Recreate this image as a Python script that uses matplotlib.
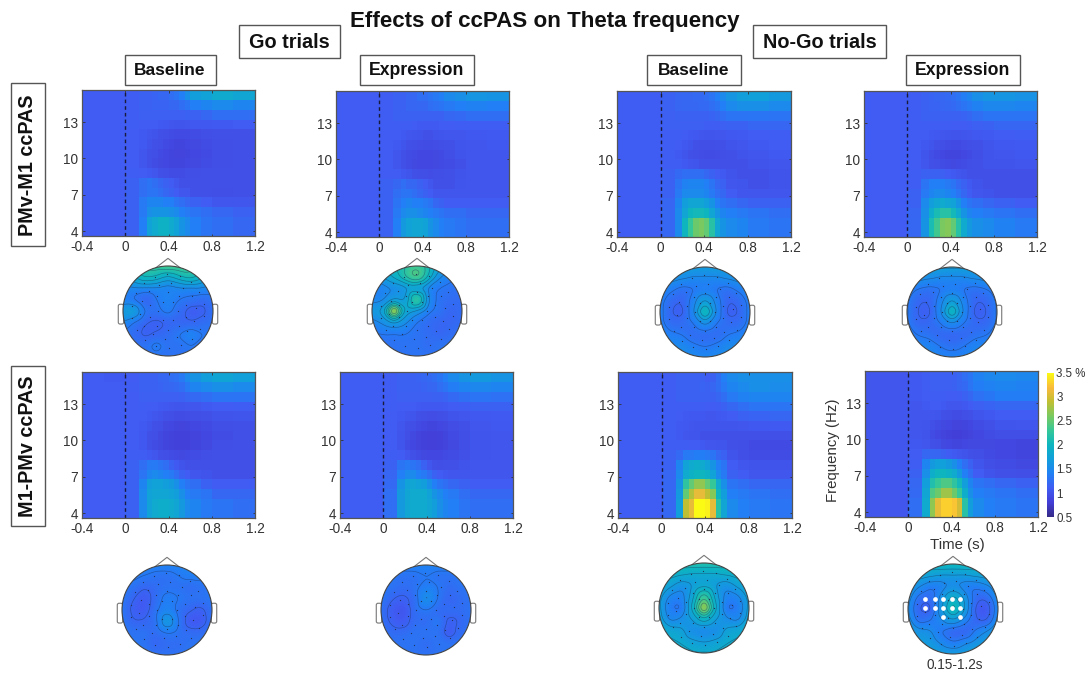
import numpy as np
import matplotlib
matplotlib.use("Agg")
import matplotlib.pyplot as plt
from matplotlib.colors import LinearSegmentedColormap, Normalize
from matplotlib.patches import Circle, FancyBboxPatch, Rectangle
from matplotlib.tri import Triangulation, CubicTriInterpolator
from matplotlib.cm import ScalarMappable

plt.rcParams['font.family'] = ['Liberation Sans', 'DejaVu Sans']

T_EDGES = [-.4,-.2,0,.13,.2,.25,.3,.35,.4,.45,.5,.55,.6,.7,.8,1.0,1.2]
F_EDGES = [3.6,5.2,6.0,6.8,7.6,8.4,9.2,10.0,10.8,11.6,12.4,13.2,14.0,14.8,15.65]

TF_A = [
[1.1,1.1,1.15,1.4,1.75,1.85,1.95,1.95,1.85,1.75,1.6,1.5,1.4,1.3,1.25,1.2],
[1.1,1.1,1.15,1.35,1.55,1.6,1.6,1.6,1.55,1.5,1.4,1.35,1.3,1.25,1.2,1.15],
[1.1,1.1,1.15,1.35,1.45,1.45,1.45,1.4,1.4,1.3,1.25,1.2,1.15,1.1,1.05,1.05],
[1.1,1.1,1.15,1.25,1.3,1.3,1.25,1.2,1.15,1.1,1.05,1.05,1.0,1.0,.98,1.0],
[1.1,1.1,1.15,1.25,1.3,1.25,1.2,1.15,1.1,1.05,1.0,1.0,1.0,1.0,1.0,1.0],
[1.1,1.1,1.12,1.1,1.08,1.05,1.0,.98,.95,.95,.95,.97,.98,1.0,1.0,1.0],
[1.1,1.1,1.1,1.05,1.0,.95,.92,.9,.88,.88,.88,.9,.92,.95,.98,1.0],
[1.1,1.1,1.1,1.05,1.0,.97,.93,.9,.88,.87,.87,.88,.9,.93,.97,1.0],
[1.1,1.1,1.1,1.08,1.02,1.0,.97,.93,.9,.88,.88,.9,.92,.95,.97,1.0],
[1.1,1.1,1.1,1.08,1.05,1.02,1.0,.97,.95,.93,.93,.94,.95,.97,1.0,1.0],
[1.1,1.1,1.12,1.1,1.1,1.1,1.08,1.07,1.05,1.03,1.03,1.05,1.07,1.07,1.08,1.1],
[1.1,1.1,1.12,1.13,1.13,1.13,1.13,1.13,1.13,1.13,1.13,1.15,1.15,1.2,1.25,1.25],
[1.1,1.1,1.12,1.15,1.15,1.17,1.17,1.17,1.2,1.2,1.25,1.3,1.4,1.45,1.5,1.45],
[1.1,1.1,1.12,1.15,1.15,1.17,1.2,1.2,1.25,1.3,1.4,1.55,1.7,1.75,1.85,1.8],
]
TF_B = [
[1.1,1.1,1.15,1.4,1.65,1.75,1.8,1.8,1.75,1.6,1.5,1.4,1.35,1.3,1.25,1.25],
[1.1,1.1,1.15,1.35,1.5,1.55,1.55,1.5,1.45,1.4,1.35,1.3,1.25,1.25,1.2,1.2],
[1.1,1.1,1.15,1.3,1.4,1.45,1.4,1.4,1.35,1.3,1.2,1.15,1.1,1.1,1.1,1.1],
[1.1,1.1,1.15,1.25,1.3,1.3,1.25,1.2,1.15,1.1,1.05,1.05,1.05,1.05,1.05,1.05],
[1.1,1.1,1.15,1.2,1.25,1.2,1.2,1.15,1.1,1.05,1.0,1.0,1.0,1.03,1.05,1.05],
[1.1,1.1,1.1,1.1,1.07,1.03,1.0,.98,.97,.96,.97,.98,1.0,1.02,1.05,1.05],
[1.1,1.1,1.1,1.05,1.0,.95,.92,.9,.9,.9,.92,.93,.95,1.0,1.05,1.05],
[1.1,1.1,1.1,1.05,1.0,.95,.93,.9,.9,.9,.92,.93,.97,1.02,1.05,1.05],
[1.1,1.1,1.1,1.08,1.03,1.0,.97,.96,.95,.95,.96,.97,1.0,1.03,1.05,1.07],
[1.1,1.1,1.1,1.1,1.08,1.05,1.03,1.02,1.0,1.0,1.02,1.03,1.05,1.05,1.07,1.08],
[1.1,1.1,1.12,1.12,1.12,1.12,1.1,1.08,1.08,1.08,1.08,1.1,1.1,1.12,1.12,1.12],
[1.1,1.1,1.12,1.15,1.15,1.15,1.15,1.15,1.15,1.15,1.15,1.15,1.2,1.22,1.25,1.25],
[1.1,1.1,1.12,1.15,1.15,1.18,1.18,1.2,1.2,1.25,1.28,1.3,1.35,1.4,1.42,1.4],
[1.1,1.1,1.12,1.15,1.15,1.18,1.2,1.25,1.25,1.3,1.35,1.4,1.5,1.55,1.62,1.6],
]
TF_C = [
[1.12,1.12,1.2,1.5,2.0,2.3,2.55,2.6,2.5,2.2,1.8,1.6,1.5,1.45,1.35,1.3],
[1.12,1.12,1.2,1.5,1.8,2.0,2.05,2.05,2.0,1.8,1.6,1.45,1.4,1.35,1.3,1.25],
[1.12,1.12,1.18,1.45,1.7,1.8,1.8,1.8,1.7,1.6,1.4,1.3,1.25,1.2,1.15,1.15],
[1.12,1.12,1.15,1.35,1.5,1.5,1.5,1.5,1.45,1.35,1.25,1.2,1.1,1.05,1.05,1.05],
[1.12,1.12,1.15,1.3,1.42,1.45,1.45,1.45,1.4,1.3,1.2,1.15,1.05,1.03,1.0,1.02],
[1.12,1.12,1.15,1.22,1.25,1.25,1.25,1.25,1.2,1.15,1.1,1.08,1.02,1.0,1.0,1.02],
[1.12,1.12,1.12,1.12,1.08,1.05,1.03,1.0,1.0,1.0,1.0,1.0,1.0,1.0,1.02,1.05],
[1.12,1.12,1.12,1.08,1.03,1.0,.97,.96,.95,.95,.96,.97,1.0,1.02,1.05,1.08],
[1.12,1.12,1.12,1.1,1.07,1.03,1.0,.98,.97,.98,1.0,1.0,1.02,1.05,1.08,1.1],
[1.12,1.12,1.12,1.12,1.1,1.08,1.07,1.05,1.03,1.03,1.05,1.05,1.07,1.08,1.1,1.12],
[1.12,1.12,1.13,1.13,1.13,1.13,1.13,1.13,1.12,1.12,1.12,1.13,1.15,1.15,1.18,1.18],
[1.12,1.12,1.13,1.15,1.15,1.15,1.15,1.15,1.15,1.17,1.2,1.25,1.3,1.3,1.32,1.3],
[1.12,1.12,1.15,1.18,1.2,1.2,1.2,1.22,1.22,1.25,1.3,1.4,1.5,1.55,1.55,1.5],
[1.12,1.12,1.15,1.18,1.2,1.2,1.22,1.22,1.25,1.3,1.4,1.5,1.62,1.7,1.72,1.65],
]
TF_D = [
[1.1,1.1,1.2,1.6,2.1,2.35,2.6,2.65,2.5,2.2,1.85,1.65,1.55,1.5,1.42,1.35],
[1.1,1.1,1.18,1.55,1.9,2.1,2.2,2.2,2.05,1.85,1.6,1.45,1.4,1.35,1.3,1.25],
[1.1,1.1,1.15,1.5,1.7,1.8,1.85,1.8,1.75,1.6,1.4,1.3,1.25,1.2,1.15,1.1],
[1.1,1.1,1.15,1.35,1.45,1.5,1.5,1.45,1.4,1.3,1.2,1.12,1.05,1.02,1.0,1.0],
[1.1,1.1,1.12,1.3,1.4,1.4,1.4,1.35,1.3,1.22,1.15,1.08,1.02,1.0,1.0,1.0],
[1.1,1.1,1.12,1.15,1.15,1.15,1.13,1.1,1.08,1.05,1.02,1.0,1.0,1.0,1.0,1.0],
[1.1,1.1,1.1,1.05,1.0,.98,.95,.93,.92,.93,.95,.97,1.0,1.02,1.02,1.05],
[1.1,1.1,1.1,1.03,.97,.93,.9,.88,.88,.88,.9,.93,.97,1.02,1.05,1.07],
[1.1,1.1,1.1,1.07,1.03,1.0,.97,.95,.94,.94,.96,.98,1.0,1.03,1.07,1.08],
[1.1,1.1,1.1,1.1,1.08,1.07,1.05,1.03,1.02,1.02,1.03,1.05,1.07,1.08,1.1,1.12],
[1.1,1.1,1.12,1.12,1.12,1.12,1.12,1.12,1.1,1.1,1.1,1.12,1.13,1.15,1.18,1.18],
[1.1,1.1,1.12,1.15,1.15,1.15,1.15,1.15,1.15,1.15,1.17,1.2,1.25,1.3,1.3,1.3],
[1.1,1.1,1.12,1.15,1.17,1.17,1.18,1.2,1.22,1.25,1.3,1.35,1.42,1.48,1.48,1.45],
[1.1,1.1,1.12,1.15,1.17,1.18,1.2,1.22,1.25,1.3,1.38,1.45,1.55,1.62,1.62,1.58],
]
TF_E = [
[1.1,1.1,1.15,1.5,1.75,1.85,1.9,1.9,1.85,1.8,1.65,1.5,1.45,1.35,1.3,1.25],
[1.1,1.1,1.15,1.5,1.75,1.8,1.8,1.8,1.75,1.7,1.55,1.4,1.35,1.3,1.2,1.2],
[1.1,1.1,1.15,1.45,1.7,1.75,1.75,1.7,1.65,1.55,1.4,1.3,1.25,1.15,1.1,1.1],
[1.1,1.1,1.15,1.3,1.45,1.5,1.45,1.4,1.35,1.25,1.15,1.1,1.05,1.02,1.0,1.0],
[1.1,1.1,1.15,1.25,1.35,1.35,1.3,1.25,1.15,1.08,1.02,1.0,1.0,1.0,1.0,1.0],
[1.1,1.1,1.12,1.12,1.08,1.05,1.0,.97,.95,.93,.92,.93,.95,.97,1.0,1.0],
[1.1,1.1,1.1,1.07,1.0,.95,.92,.88,.86,.85,.85,.85,.88,.92,.97,1.0],
[1.1,1.1,1.1,1.07,1.0,.97,.92,.88,.86,.84,.84,.85,.87,.9,.95,1.0],
[1.1,1.1,1.1,1.08,1.03,1.0,.97,.92,.9,.88,.87,.88,.9,.93,.97,1.0],
[1.1,1.1,1.1,1.1,1.08,1.05,1.02,1.0,.97,.95,.95,.96,.97,1.0,1.02,1.03],
[1.1,1.1,1.1,1.12,1.1,1.1,1.08,1.07,1.05,1.03,1.03,1.05,1.05,1.08,1.1,1.12],
[1.1,1.1,1.1,1.13,1.13,1.13,1.13,1.13,1.13,1.13,1.15,1.18,1.22,1.25,1.3,1.3],
[1.1,1.1,1.12,1.15,1.15,1.15,1.17,1.18,1.2,1.22,1.25,1.35,1.45,1.5,1.55,1.5],
[1.1,1.08,1.1,1.15,1.15,1.15,1.18,1.2,1.25,1.28,1.35,1.5,1.6,1.7,1.78,1.72],
]
TF_F = [
[1.12,1.12,1.25,1.65,1.8,1.85,1.85,1.85,1.8,1.7,1.55,1.45,1.4,1.3,1.25,1.25],
[1.12,1.12,1.25,1.65,1.8,1.85,1.85,1.85,1.75,1.6,1.5,1.4,1.35,1.25,1.2,1.2],
[1.12,1.12,1.22,1.6,1.75,1.8,1.75,1.7,1.55,1.4,1.3,1.25,1.2,1.15,1.1,1.1],
[1.12,1.12,1.18,1.4,1.5,1.5,1.4,1.35,1.25,1.15,1.1,1.07,1.05,1.05,1.05,1.05],
[1.12,1.12,1.15,1.3,1.35,1.3,1.25,1.15,1.05,1.0,.98,1.0,1.0,1.02,1.05,1.05],
[1.12,1.12,1.12,1.1,1.05,1.0,.95,.92,.9,.9,.9,.93,.95,1.0,1.03,1.05],
[1.12,1.12,1.1,1.03,.95,.9,.87,.84,.83,.83,.85,.87,.92,.97,1.03,1.05],
[1.12,1.12,1.1,1.03,.97,.92,.87,.84,.83,.83,.85,.88,.93,.98,1.03,1.05],
[1.12,1.12,1.1,1.05,1.0,.97,.93,.9,.88,.88,.9,.92,.96,1.0,1.05,1.07],
[1.12,1.12,1.1,1.08,1.05,1.03,1.0,.98,.96,.96,.98,1.0,1.02,1.05,1.07,1.08],
[1.12,1.12,1.12,1.1,1.1,1.1,1.08,1.07,1.07,1.07,1.07,1.08,1.1,1.12,1.15,1.15],
[1.12,1.12,1.12,1.13,1.13,1.13,1.13,1.13,1.13,1.15,1.15,1.17,1.22,1.27,1.3,1.28],
[1.12,1.12,1.12,1.15,1.15,1.15,1.15,1.17,1.18,1.2,1.25,1.3,1.38,1.45,1.48,1.45],
[1.12,1.12,1.12,1.15,1.15,1.15,1.17,1.2,1.22,1.25,1.32,1.4,1.5,1.6,1.65,1.6],
]
TF_G = [
[1.12,1.12,1.2,1.7,2.9,3.1,3.5,3.5,3.45,3.1,2.2,1.8,1.5,1.4,1.35,1.3],
[1.12,1.12,1.2,1.65,2.5,2.85,3.1,3.1,2.9,2.65,2.0,1.7,1.4,1.35,1.3,1.25],
[1.12,1.12,1.2,1.6,2.25,2.5,2.7,2.7,2.5,2.3,1.85,1.55,1.3,1.25,1.2,1.18],
[1.12,1.12,1.18,1.5,1.85,1.95,2.0,2.0,1.95,1.75,1.5,1.35,1.15,1.1,1.05,1.05],
[1.12,1.12,1.15,1.45,1.75,1.85,1.9,1.85,1.75,1.6,1.4,1.3,1.1,1.05,1.02,1.02],
[1.12,1.12,1.15,1.22,1.35,1.35,1.38,1.38,1.35,1.3,1.2,1.15,1.02,.98,.95,.95],
[1.12,1.12,1.12,1.12,1.12,1.1,1.1,1.08,1.05,1.05,1.03,1.03,1.0,.97,.93,.93],
[1.12,1.12,1.12,1.08,1.05,1.03,1.03,1.0,1.0,1.0,1.0,1.0,1.0,1.0,1.0,1.0],
[1.12,1.12,1.12,1.08,1.07,1.05,1.03,1.03,1.03,1.03,1.03,1.03,1.03,1.05,1.07,1.08],
[1.12,1.12,1.12,1.1,1.08,1.07,1.07,1.07,1.05,1.05,1.07,1.08,1.1,1.15,1.17,1.18],
[1.12,1.12,1.12,1.12,1.12,1.12,1.12,1.12,1.1,1.1,1.12,1.15,1.2,1.25,1.3,1.3],
[1.12,1.12,1.12,1.15,1.15,1.15,1.15,1.15,1.15,1.15,1.18,1.25,1.35,1.42,1.45,1.45],
[1.12,1.12,1.12,1.15,1.15,1.15,1.15,1.17,1.15,1.18,1.25,1.35,1.45,1.5,1.55,1.52],
[1.12,1.12,1.12,1.15,1.15,1.15,1.15,1.15,1.12,1.15,1.25,1.4,1.5,1.55,1.55,1.55],
]
TF_H = [
[1.05,1.05,1.25,1.85,2.7,3.1,3.3,3.3,3.25,3.0,2.2,1.7,1.5,1.4,1.35,1.3],
[1.05,1.05,1.22,1.8,2.4,2.55,2.75,2.75,2.55,2.3,1.9,1.55,1.4,1.35,1.3,1.25],
[1.05,1.05,1.2,1.7,2.15,2.3,2.4,2.4,2.25,2.05,1.7,1.45,1.3,1.25,1.2,1.15],
[1.05,1.05,1.15,1.55,1.9,2.0,2.0,1.95,1.85,1.65,1.4,1.25,1.1,1.02,1.0,.98],
[1.05,1.05,1.12,1.45,1.65,1.72,1.72,1.65,1.55,1.4,1.25,1.15,1.03,.98,.95,.92],
[1.05,1.05,1.1,1.2,1.2,1.18,1.15,1.12,1.08,1.05,1.02,1.0,.97,.93,.9,.88],
[1.05,1.05,1.07,1.05,1.0,.97,.92,.9,.88,.88,.9,.92,.92,.92,.9,.88],
[1.05,1.05,1.05,1.02,.95,.9,.87,.84,.82,.82,.84,.87,.9,.95,.97,.97],
[1.05,1.05,1.05,1.03,1.0,.95,.92,.9,.87,.87,.88,.9,.95,1.0,1.03,1.05],
[1.05,1.05,1.05,1.05,1.05,1.03,1.0,.97,.95,.95,.97,1.0,1.03,1.07,1.1,1.1],
[1.05,1.05,1.05,1.08,1.1,1.1,1.08,1.05,1.05,1.05,1.07,1.1,1.13,1.17,1.2,1.2],
[1.05,1.05,1.08,1.1,1.12,1.12,1.12,1.1,1.1,1.12,1.15,1.2,1.28,1.33,1.38,1.38],
[1.05,1.05,1.08,1.12,1.13,1.13,1.13,1.13,1.15,1.18,1.22,1.3,1.38,1.42,1.45,1.42],
[1.05,1.05,1.08,1.12,1.13,1.13,1.13,1.13,1.15,1.18,1.25,1.32,1.42,1.48,1.5,1.48],
]

# Scalp maps: rows run front (top) to back, columns left to right
SCALP_A = [
[2.0,2.1,2.2,2.35,2.45,2.4,2.25,2.1,2.0],
[1.7,1.85,2.05,2.0,1.85,2.0,2.1,1.9,1.7],
[1.45,1.5,1.5,1.5,1.45,1.5,1.5,1.5,1.45],
[1.4,1.35,1.2,1.35,1.45,1.35,1.3,1.25,1.3],
[1.65,1.7,1.35,1.3,1.4,1.25,1.12,1.15,1.3],
[1.5,1.35,1.2,1.15,1.2,1.2,1.2,1.25,1.3],
[1.3,1.25,1.15,1.2,1.25,1.35,1.45,1.35,1.3],
[1.3,1.3,1.3,1.4,1.3,1.3,1.35,1.3,1.3],
[1.3,1.3,1.3,1.3,1.3,1.3,1.3,1.3,1.3],
]
SCALP_B = [
[1.8,1.9,2.0,2.2,2.3,2.1,1.8,1.6,1.5],
[1.6,1.7,1.9,2.2,2.4,2.0,1.55,1.4,1.4],
[1.45,1.45,1.55,1.65,1.7,1.5,1.35,1.3,1.3],
[1.45,1.5,1.7,1.7,2.3,1.55,1.3,1.25,1.25],
[1.65,1.75,2.9,1.8,1.65,1.4,1.3,1.2,1.25],
[1.45,1.55,1.7,1.55,1.35,1.25,1.2,1.2,1.25],
[1.35,1.35,1.35,1.35,1.3,1.25,1.2,1.25,1.3],
[1.3,1.3,1.3,1.3,1.3,1.25,1.3,1.3,1.3],
[1.3,1.3,1.3,1.3,1.3,1.3,1.3,1.3,1.3],
]
SCALP_C = [
[1.6,1.6,1.65,1.7,1.7,1.7,1.65,1.6,1.6],
[1.6,1.6,1.55,1.5,1.5,1.5,1.55,1.6,1.6],
[1.5,1.4,1.3,1.35,1.4,1.35,1.3,1.4,1.5],
[1.45,1.25,1.2,1.45,1.7,1.45,1.2,1.25,1.45],
[1.45,1.2,1.15,1.5,2.1,1.5,1.15,1.2,1.45],
[1.45,1.25,1.25,1.35,1.55,1.35,1.25,1.25,1.45],
[1.5,1.4,1.35,1.25,1.25,1.25,1.35,1.4,1.5],
[1.55,1.5,1.5,1.4,1.35,1.4,1.5,1.5,1.55],
[1.55,1.55,1.55,1.5,1.5,1.5,1.55,1.55,1.55],
]
SCALP_D = [
[1.6,1.6,1.7,1.75,1.75,1.75,1.7,1.6,1.6],
[1.6,1.6,1.55,1.5,1.5,1.5,1.55,1.6,1.6],
[1.45,1.35,1.3,1.35,1.4,1.35,1.3,1.35,1.45],
[1.4,1.22,1.2,1.45,1.7,1.45,1.2,1.22,1.4],
[1.4,1.18,1.15,1.5,2.05,1.5,1.15,1.18,1.4],
[1.4,1.22,1.22,1.35,1.5,1.35,1.22,1.22,1.4],
[1.45,1.35,1.3,1.22,1.2,1.22,1.3,1.35,1.45],
[1.5,1.45,1.45,1.35,1.3,1.35,1.45,1.45,1.5],
[1.5,1.5,1.5,1.45,1.45,1.45,1.5,1.5,1.5],
]
SCALP_E = [
[1.45,1.45,1.45,1.45,1.45,1.45,1.45,1.45,1.45],
[1.4,1.4,1.35,1.3,1.3,1.35,1.4,1.4,1.4],
[1.35,1.3,1.2,1.25,1.3,1.3,1.25,1.3,1.35],
[1.35,1.2,1.1,1.25,1.4,1.35,1.3,1.3,1.35],
[1.35,1.15,1.1,1.3,1.45,1.3,1.2,1.15,1.3],
[1.35,1.2,1.2,1.3,1.65,1.35,1.1,1.1,1.3],
[1.35,1.3,1.3,1.25,1.35,1.3,1.25,1.25,1.3],
[1.35,1.35,1.3,1.2,1.25,1.25,1.3,1.35,1.35],
[1.4,1.4,1.35,1.3,1.3,1.3,1.35,1.4,1.4],
]
SCALP_F = [
[1.4,1.4,1.45,1.45,1.45,1.45,1.45,1.4,1.4],
[1.4,1.35,1.3,1.3,1.35,1.3,1.3,1.35,1.4],
[1.35,1.3,1.25,1.3,1.4,1.35,1.25,1.3,1.35],
[1.35,1.2,1.15,1.25,1.55,1.35,1.2,1.25,1.3],
[1.3,1.12,1.05,1.25,1.35,1.25,1.25,1.25,1.3],
[1.3,1.15,1.1,1.25,1.25,1.35,1.15,1.2,1.3],
[1.3,1.25,1.25,1.3,1.3,1.3,1.1,1.25,1.3],
[1.35,1.3,1.3,1.3,1.25,1.3,1.3,1.3,1.35],
[1.35,1.35,1.35,1.3,1.3,1.3,1.35,1.35,1.35],
]
SCALP_G = [
[2.1,2.1,2.15,2.2,2.2,2.2,2.15,2.1,2.1],
[1.95,1.95,1.9,1.85,1.85,1.85,1.9,1.95,1.95],
[1.85,1.75,1.6,1.7,1.8,1.7,1.6,1.75,1.85],
[1.8,1.5,1.45,1.8,2.3,1.8,1.45,1.5,1.8],
[1.8,1.4,1.35,1.9,2.8,1.9,1.35,1.4,1.8],
[1.85,1.5,1.55,1.7,1.95,1.7,1.55,1.5,1.85],
[1.9,1.8,1.75,1.55,1.5,1.55,1.75,1.8,1.9],
[1.95,1.9,1.85,1.75,1.7,1.75,1.85,1.9,1.95],
[1.95,1.95,1.95,1.9,1.9,1.9,1.95,1.95,1.95],
]
SCALP_H = [
[2.0,2.0,2.0,2.05,2.05,2.05,2.0,2.0,2.0],
[1.8,1.8,1.75,1.7,1.7,1.7,1.75,1.8,1.8],
[1.7,1.55,1.4,1.45,1.55,1.45,1.4,1.5,1.7],
[1.65,1.3,1.25,1.6,1.9,1.65,1.25,1.25,1.6],
[1.6,1.2,1.15,1.65,2.1,1.7,1.15,1.1,1.55],
[1.65,1.3,1.35,1.5,1.65,1.45,1.2,1.2,1.6],
[1.7,1.6,1.55,1.35,1.2,1.2,1.4,1.55,1.65],
[1.75,1.7,1.65,1.5,1.4,1.5,1.6,1.7,1.75],
[1.75,1.75,1.75,1.7,1.7,1.7,1.75,1.75,1.75],
]
SIGNIF_X = [-.63,-.40,-.22,-.03,.15,-.63,-.40,-.22,-.03,.15,-.22,.15]
SIGNIF_Y = [.22,.22,.22,.22,.22,.02,.02,.02,.02,.02,-.18,-.18]

TIME_TICKS = [-.4,0,.4,.8,1.2]
TIME_LABELS = ['-0.4','0','0.4','0.8','1.2']
FREQ_TICKS = [4,7,10,13]
CBAR_TICKS = [.5,1,1.5,2,2.5,3,3.5]
CBAR_LABELS = ['0.5','1','1.5','2','2.5','3','3.5 %']
TITLE = 'Effects of ccPAS on Theta frequency'

W, H = 1088, 675
fig = plt.figure(figsize=(W/100, H/100), dpi=100)
parula = LinearSegmentedColormap.from_list('parula', [
    (.208,.166,.529),(.26,.24,.84),(.25,.36,.95),(.13,.50,.96),(.07,.62,.86),
    (.05,.71,.75),(.21,.78,.60),(.47,.79,.38),(.75,.75,.20),(.98,.73,.23),(.98,.98,.08)])
norm = Normalize(.5, 3.5)
TXT = '#333333'

def px_axes(l, t, r, b, **kw):
    return fig.add_axes([l/W, 1-b/H, (r-l)/W, (b-t)/H], **kw)

def tf_panel(data, box):
    ax = px_axes(*box)
    ax.pcolormesh(T_EDGES, F_EDGES, np.array(data), cmap=parula, norm=norm, shading='flat', rasterized=True)
    ax.axvline(0, color='#1a1a3a', lw=1.0, ls=(0, (2.6, 2.2)))
    ax.set_xlim(-.4, 1.2); ax.set_ylim(3.6, 15.65)
    ax.set_xticks(TIME_TICKS, TIME_LABELS); ax.set_yticks(FREQ_TICKS)
    ax.tick_params(direction='in', length=1.8, width=.6, top=True, right=True, labelsize=9.8,
                   labelcolor=TXT, color='#333333', pad=3)
    for s in ax.spines.values():
        s.set_color('#555555'); s.set_linewidth(.9)
    return ax

def soften(a, sigma=5.0):
    x = np.arange(-15, 16)
    ker = np.exp(-.5*(x/sigma)**2); ker /= ker.sum()
    p = np.pad(a, 15, mode='edge')
    p = np.apply_along_axis(lambda v: np.convolve(v, ker, mode='same'), 0, p)
    p = np.apply_along_axis(lambda v: np.convolve(v, ker, mode='same'), 1, p)
    return p[15:-15, 15:-15]

def scalp(data, cx, cy, r=45):
    k = 1.35
    ax = px_axes(cx-r*k, cy-r*k, cx+r*k, cy+r*k)
    ax.set_xlim(-k, k); ax.set_ylim(-k, k); ax.axis('off')
    z = np.array(data)[::-1]
    g = np.linspace(-1.02, 1.02, z.shape[0])
    X, Y = np.meshgrid(g, g)
    tri = Triangulation(X.ravel(), Y.ravel())
    interp = CubicTriInterpolator(tri, z.ravel(), kind='geom')
    fine = np.linspace(-1.02, 1.02, 180)
    FX, FY = np.meshgrid(fine, fine)
    FZ = np.ma.filled(interp(FX, FY), np.nan)
    FZ = np.where(np.isnan(FZ), np.nanmean(FZ), FZ)
    FZ = soften(FZ)
    clip = Circle((0, 0), 1, transform=ax.transData)
    im = ax.imshow(FZ, extent=[-1.02, 1.02, -1.02, 1.02], origin='lower', cmap=parula, norm=norm,
                   interpolation='bilinear', zorder=2)
    im.set_clip_path(clip)
    cs = ax.contour(FX, FY, FZ, levels=np.arange(.5, 3.5, .17), colors='#1c2f55', linewidths=.45,
                    alpha=.5, zorder=3)
    cs.set_clip_path(clip)
    ax.add_patch(Circle((0, 0), 1, fc='none', ec='#444444', lw=.8, zorder=5))
    ax.plot([-.27, 0, .27], [.96, 1.17, .96], color='#777777', lw=.8, zorder=1, solid_joinstyle='miter')
    for side in (-1, 1):
        ax.add_patch(FancyBboxPatch((side*1.045-.04, -.27), .08, .4, boxstyle='round,pad=0.02,rounding_size=.04',
                                    fc='white', ec='#777777', lw=.8, zorder=1))
    # electrode markers, rings on the head
    for rad, n, off in ((.22, 6, 0), (.42, 10, .3), (.62, 14, .1), (.82, 18, .2)):
        a = off + np.arange(n)*2*np.pi/n
        ax.plot(rad*np.cos(a), rad*np.sin(a), ls='none', marker='o', ms=.9, mfc='#223355', mec='none', zorder=4)
    return ax

panels = [
    (TF_A, (82, 90, 255, 236), SCALP_A, 168, 311),
    (TF_B, (336, 91, 509, 237), SCALP_B, 417, 311),
    (TF_C, (617, 91, 791, 237), SCALP_C, 705, 312),
    (TF_D, (864, 91, 1037, 237), SCALP_D, 952, 312),
    (TF_E, (82, 372, 255, 518), SCALP_E, 167, 610),
    (TF_F, (340, 372, 513, 518), SCALP_F, 426, 610),
    (TF_G, (618, 372, 792, 518), SCALP_G, 704, 608),
    (TF_H, (865, 371, 1038, 517), SCALP_H, 953, 609),
]
last = None
for tf, box, sc, cx, cy in panels:
    tf_panel(tf, box)
    last = scalp(sc, cx, cy)
last.plot(SIGNIF_X, SIGNIF_Y, ls='none', marker='o', ms=3.4, mfc='white', mec='none', zorder=6)

# overlay in pixel coordinates for labelled boxes and free text
ov = fig.add_axes([0, 0, 1, 1], zorder=10)
ov.set_xlim(0, W); ov.set_ylim(H, 0); ov.axis('off'); ov.patch.set_alpha(0)

def lbox(l, t, r, b, text, fs, rot=0):
    ov.add_patch(Rectangle((l, t), r-l, b-t, fc='white', ec='#555555', lw=1.0))
    ov.text((l+r)/2, (t+b)/2+.5, text, ha='center', va='center', fontsize=fs, fontweight='bold',
            rotation=rot, color='#111111')

lbox(238.5, 25, 340, 58, 'Go trials', 14.3)
lbox(753, 25, 886, 58, 'No-Go trials', 14.3)
lbox(124.5, 54.5, 215.5, 85, 'Baseline', 12.5)
lbox(360, 55, 474, 85, 'Expression', 12.7)
lbox(647, 55, 741, 85, 'Baseline', 12.5)
lbox(906, 55, 1020, 85, 'Expression', 12.7)
lbox(10.5, 83, 44.5, 246, 'PMv-M1 ccPAS', 14.2, 90)
lbox(11, 366, 44.5, 526, 'M1-PMv ccPAS', 14.2, 90)
ov.text(545, 21, TITLE, ha='center', va='center', fontsize=16.1, fontweight='bold', color='#111111')
ov.text(833, 450, 'Frequency (Hz)', rotation=90, ha='center', va='center', fontsize=10.8, color=TXT)
ov.text(957, 545, 'Time (s)', ha='center', va='center', fontsize=10.8, color=TXT)
ov.text(955, 665, '0.15-1.2s', ha='center', va='center', fontsize=9.8, color=TXT)

cax = px_axes(1047, 373, 1054, 517)
cb = fig.colorbar(ScalarMappable(norm=norm, cmap=parula), cax=cax, ticks=CBAR_TICKS)
cb.ax.set_yticklabels(CBAR_LABELS)
cb.ax.tick_params(length=0, labelsize=8.3, labelcolor=TXT, pad=1.5)
cb.outline.set_visible(False)

fig.savefig('out.png', dpi=100, facecolor='white')
